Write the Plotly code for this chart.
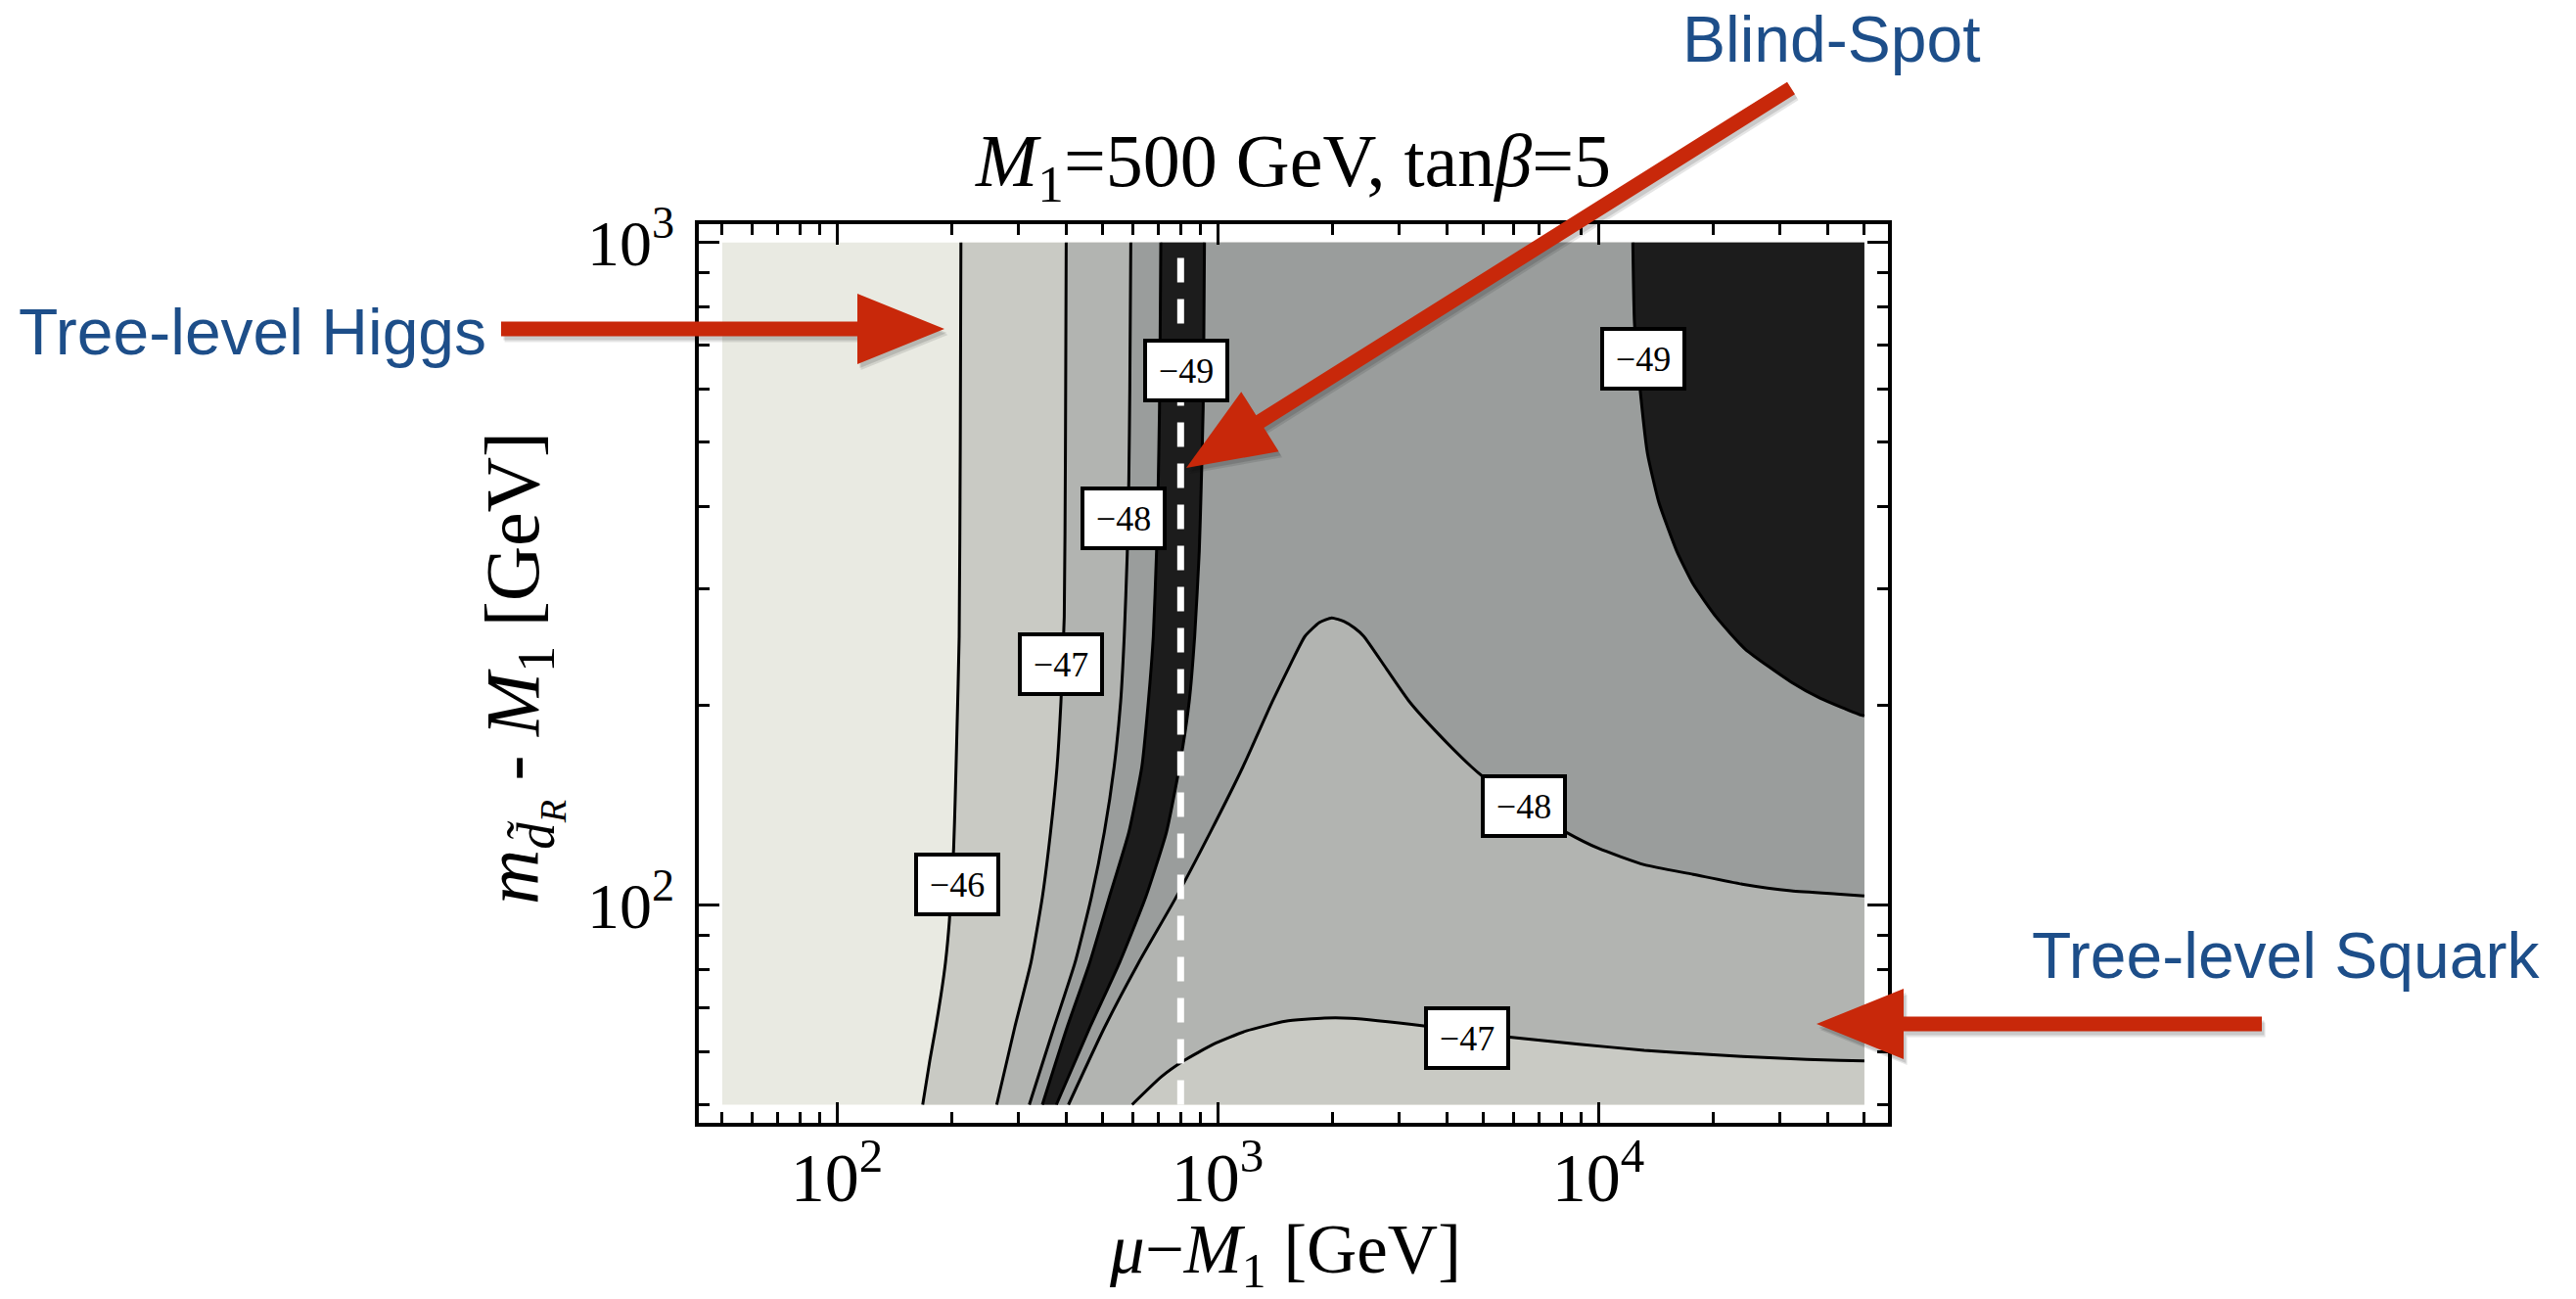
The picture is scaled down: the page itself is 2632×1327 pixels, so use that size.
import math
import plotly.graph_objects as go

# ---------------------------------------------------------------------------
# Contour levels of log10(sigma_SI) in the (mu - M1, m_dR - M1) plane
# Each contour is a list of (mu - M1, m_dR - M1) points in GeV.
# ---------------------------------------------------------------------------
X_MIN, X_MAX = 50.0, 50000.0
Y_MIN, Y_MAX = 50.0, 1000.0

c46_x = [211.8, 211.0, 209.6, 206.7, 204.6, 202.7, 197.6, 192.9, 187.7, 181.8, 175.5, 168.1]
c46_y = [1000, 500, 254.6, 181.1, 144.4, 121.8, 94.9, 81.9, 73.1, 65.3, 58.3, 50]

c47_left_x = [400.4, 398.5, 395.7, 387.9, 378.8, 364.2, 346.6, 323.5, 293.1, 263.0]
c47_left_y = [1000, 480, 272.4, 202.9, 161.8, 128.9, 102.8, 81.9, 65.3, 50]

c47_low_x = [596.4, 712.3, 817.6, 976.5, 1190, 1508, 1910, 2237, 3522, 5767, 8900, 13207, 19600, 29080, 43150, 50000]
c47_low_y = [50, 55.1, 58.3, 61.7, 64.6, 66.8, 67.55, 67.5, 65.7, 63.3, 61.7, 60.4, 59.5, 58.8, 58.3, 58.2]

c48_left_x = [591.8, 588.3, 584.8, 579.1, 568.8, 556.6, 535.1, 504.3, 466.1, 422.3, 371.5, 320.3]
c48_left_y = [1000, 602.6, 438.6, 338, 254.6, 202.9, 161.8, 128.9, 102.8, 81.9, 65.3, 50]

c48_bump_x = [405.9, 504.3, 620.4, 778.3, 957.5, 1166.5, 1393, 1560, 1697, 1850, 1995, 2150, 2290,
              2421, 2779, 3191, 3811, 4642, 4974, 6364, 8228, 10020, 13207, 17760, 23880, 32100,
              43150, 50000]
c48_bump_y = [50, 65.3, 81.9, 102.8, 128.9, 161.8, 202.9, 232, 254.6, 267, 271.4, 268, 262,
              254.6, 227.3, 202.9, 181.1, 161.8, 156.4, 141.2, 128.9, 121.8, 115.1, 111.3, 107.6,
              105.1, 103.9, 103.3]

c49_band_left_x = [709.5, 706.7, 704.0, 698.4, 691.6, 678.1, 658.1, 632.7, 584.8, 519.4, 461.5, 402.1, 346.6]
c49_band_right_x = [924.0, 920.4, 916.8, 906.0, 895.4, 871.0, 842.5, 794.3, 734.3, 647.6, 553.0, 461.5, 377.3]
c49_band_y = [1000, 722.6, 562.8, 428.7, 341.9, 254.6, 202.9, 161.8, 128.9, 102.8, 81.9, 65.3, 50]

c49_corner_x = [12326, 12450, 12950, 13470, 14430, 16090, 17760, 20390, 24350, 32100, 38330, 48580, 50000]
c49_corner_y = [1000, 755.8, 582.3, 480.2, 405.3, 341.9, 305.1, 272.4, 243.3, 217.2, 205.2, 193.9, 193.0]

blind_spot_x = 800.0

# contour label text and positions (mu - M1, m_dR - M1)
label_text = ["\u221246", "\u221247", "\u221248", "\u221249", "\u221249", "\u221248", "\u221247"]
label_x = [207.1, 388.7, 567.7, 826.0, 13160, 6364, 4524]
label_y = [107.5, 230.7, 384.0, 640.0, 667.0, 141.2, 63.0]

x_major = [100, 1000, 10000]
x_major_text = ["10<sup>2</sup>", "10<sup>3</sup>", "10<sup>4</sup>"]
x_minor = [50, 60, 70, 80, 90, 200, 300, 400, 500, 600, 700, 800, 900,
           2000, 3000, 4000, 5000, 6000, 7000, 8000, 9000, 20000, 30000, 40000, 50000]
y_major = [100, 1000]
y_major_text = ["10<sup>2</sup>", "10<sup>3</sup>"]
y_minor = [50, 60, 70, 80, 90, 200, 300, 400, 500, 600, 700, 800, 900]

# ---------------------------------------------------------------------------
# styling
# ---------------------------------------------------------------------------
W, H = 2632, 1327
M_L, M_R, M_T, M_B = 714, 703, 229, 180
PW, PH = W - M_L - M_R, H - M_T - M_B

SHADES = ["#E9EAE2", "#C9CAC4", "#B2B4B1", "#9A9D9C", "#1C1C1C"]
RED = "#C8280A"
BLUE = "#1D4E89"
SERIF = "Liberation Serif"
SANS = "Liberation Sans"


def region(xs, ys, color):
    return go.Scatter(x=xs, y=ys, mode="lines", fill="toself", fillcolor=color,
                      line=dict(width=0, color=color), hoverinfo="skip", showlegend=False)


def contour_line(xs, ys):
    return go.Scatter(x=xs, y=ys, mode="lines", hoverinfo="skip", showlegend=False,
                      line=dict(color="black", width=3, shape="spline", smoothing=0.5))


fig = go.Figure()

# filled bands, lightest (above -46) to darkest (below -49)
fig.add_trace(region([X_MIN, X_MAX, X_MAX, X_MIN], [Y_MIN, Y_MIN, Y_MAX, Y_MAX], SHADES[0]))
fig.add_trace(region(c46_x + [X_MAX, X_MAX], c46_y + [Y_MIN, Y_MAX], SHADES[1]))
fig.add_trace(region(c47_left_x + c47_low_x + [X_MAX],
                     c47_left_y + c47_low_y + [Y_MAX], SHADES[2]))
fig.add_trace(region(c48_left_x + c48_bump_x + [X_MAX],
                     c48_left_y + c48_bump_y + [Y_MAX], SHADES[3]))
fig.add_trace(region(c49_band_left_x + c49_band_right_x[::-1],
                     c49_band_y + c49_band_y[::-1], SHADES[4]))
fig.add_trace(region(c49_corner_x + [X_MAX], c49_corner_y + [Y_MAX], SHADES[4]))

# contour lines
for xs, ys in [(c46_x, c46_y), (c47_left_x, c47_left_y), (c47_low_x, c47_low_y),
               (c48_left_x, c48_left_y), (c48_bump_x, c48_bump_y),
               (c49_band_left_x, c49_band_y), (c49_band_right_x, c49_band_y),
               (c49_corner_x, c49_corner_y)]:
    fig.add_trace(contour_line(xs, ys))

# blind-spot line
fig.add_trace(go.Scatter(x=[blind_spot_x, blind_spot_x], y=[Y_MIN, Y_MAX], mode="lines",
                         hoverinfo="skip", showlegend=False,
                         line=dict(color="white", width=7, dash="25px,17px")))

# contour labels
for t, lx, ly in zip(label_text, label_x, label_y):
    fig.add_annotation(x=math.log10(lx), y=math.log10(ly), xref="x", yref="y", text=t,
                       showarrow=False, font=dict(family=SERIF, size=36, color="black"),
                       bgcolor="white", bordercolor="black", borderwidth=4, borderpad=2,
                       width=76, height=53)


# ---------------------------------------------------------------------------
# callout arrows (pixel geometry converted to paper coordinates)
# ---------------------------------------------------------------------------
def px(X):
    return (X - M_L) / PW


def py(Y):
    return 1 - (Y - M_T) / PH


def arrow_path(tail, tip, half_shaft=7.5, head_len=89, head_half=36, dx=0.0, dy=0.0):
    (x0, y0), (x1, y1) = tail, tip
    L = math.hypot(x1 - x0, y1 - y0)
    ux, uy = (x1 - x0) / L, (y1 - y0) / L
    nx, ny = -uy, ux
    bx, by = x1 - ux * head_len, y1 - uy * head_len
    pts = [(x0 + nx * half_shaft, y0 + ny * half_shaft),
           (bx + nx * half_shaft, by + ny * half_shaft),
           (bx + nx * head_half, by + ny * head_half),
           (x1, y1),
           (bx - nx * head_half, by - ny * head_half),
           (bx - nx * half_shaft, by - ny * half_shaft),
           (x0 - nx * half_shaft, y0 - ny * half_shaft)]
    return "M " + " L ".join(f"{px(a + dx):.5f},{py(b + dy):.5f}" for a, b in pts) + " Z"


arrows = [((512, 336), (965, 336)),
          ((1830, 90), (1212, 478)),
          ((2311, 1046), (1856, 1046))]
for tail, tip in arrows:
    for off, op in [(6, 0.10), (4, 0.12)]:
        fig.add_shape(type="path", xref="paper", yref="paper", layer="above",
                      path=arrow_path(tail, tip, dx=off * 0.6, dy=off),
                      fillcolor="black", opacity=op, line=dict(width=0))
    fig.add_shape(type="path", xref="paper", yref="paper", layer="above",
                  path=arrow_path(tail, tip), fillcolor=RED, line=dict(width=0))

callouts = [("Tree-level Higgs", 17, 339, "left"),
            ("Blind-Spot", 1871, 40, "center"),
            ("Tree-level Squark", 2074, 976, "left")]
for text, X, Y, anchor in callouts:
    fig.add_annotation(x=px(X), y=py(Y), xref="paper", yref="paper", text=text,
                       showarrow=False, xanchor=anchor, yanchor="middle",
                       font=dict(family=SANS, size=66, color=BLUE))

# title and axis titles
fig.add_annotation(x=px(1321), y=py(170), xref="paper", yref="paper", showarrow=False,
                   xanchor="center", yanchor="middle",
                   text="<i>M</i><sub>1</sub>=500 GeV, tan<i>\u03b2</i>=5",
                   font=dict(family=SERIF, size=76, color="black"))
fig.add_annotation(x=px(1313), y=py(1281), xref="paper", yref="paper", showarrow=False,
                   xanchor="center", yanchor="middle",
                   text="<i>\u03bc</i>\u2212<i>M</i><sub>1</sub> [GeV]",
                   font=dict(family=SERIF, size=71, color="black"))
fig.add_annotation(x=px(533), y=py(683), xref="paper", yref="paper", showarrow=False,
                   xanchor="center", yanchor="middle", textangle=-90,
                   text="<i>m</i><sub><i>d\u0303</i><sub><i>R</i></sub></sub> - <i>M</i><sub>1</sub> [GeV]",
                   font=dict(family=SERIF, size=78, color="black"))

axis_common = dict(type="log", showline=True, linewidth=3.5, linecolor="black",
                   mirror="allticks", ticks="inside", ticklen=21, tickwidth=3,
                   tickcolor="black", showgrid=False, zeroline=False)

fig.update_layout(
    width=W, height=H,
    margin=dict(l=M_L, r=M_R, t=M_T, b=M_B),
    paper_bgcolor="white", plot_bgcolor="white",
    showlegend=False,
    xaxis=dict(range=[math.log10(43.4), math.log10(57670)],
               tickvals=x_major, ticktext=x_major_text, ticklabelstandoff=-8,
               tickfont=dict(family=SERIF, size=70, color="black"),
               minor=dict(ticks="inside", ticklen=11, tickwidth=3, tickcolor="black",
                          tickvals=x_minor, showgrid=False),
               **axis_common),
    yaxis=dict(range=[math.log10(46.95), math.log10(1066)],
               tickvals=y_major, ticktext=y_major_text, ticklabelstandoff=8,
               tickfont=dict(family=SERIF, size=66, color="black"),
               minor=dict(ticks="inside", ticklen=11, tickwidth=3, tickcolor="black",
                          tickvals=y_minor, showgrid=False),
               **axis_common),
)

fig.write_html("out.html")
